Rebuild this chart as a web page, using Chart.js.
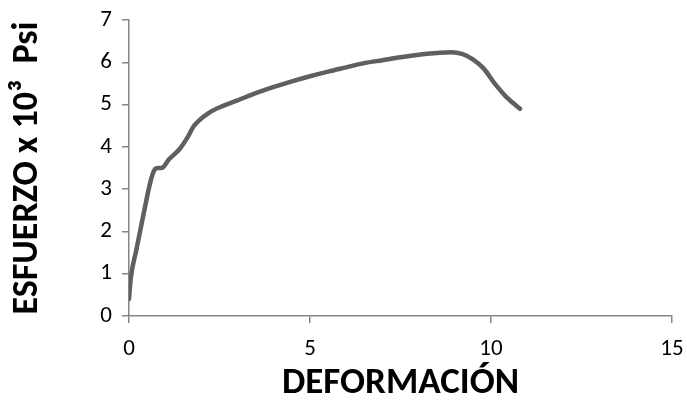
<!DOCTYPE html>
<html>
<head>
<meta charset="utf-8">
<script src="https://cdn.jsdelivr.net/npm/chart.js@4"></script>
<style>
  html, body { margin: 0; padding: 0; background: #fff; }
  #wrap { width: 687px; height: 410px; }
</style>
</head>
<body>
<div id="wrap"><canvas id="chart" width="687" height="410"></canvas></div>
<script>
const deformacion = [0, 0.05, 0.2, 0.4, 0.6, 0.7, 0.8, 0.9, 1.1, 1.4, 1.6, 1.8, 2.2, 2.6, 3, 3.5, 4, 4.5, 5, 5.5, 6, 6.5, 7, 7.5, 8, 8.5, 8.9, 9.2, 9.5, 9.8, 10.1, 10.4, 10.8];
const esfuerzo = [0.4, 0.9, 1.55, 2.4, 3.2, 3.45, 3.5, 3.5, 3.7, 3.95, 4.2, 4.5, 4.8, 4.97, 5.1, 5.27, 5.42, 5.55, 5.67, 5.78, 5.88, 5.98, 6.05, 6.12, 6.18, 6.22, 6.24, 6.2, 6.07, 5.85, 5.5, 5.2, 4.9];
const xTicks = [0, 5, 10, 15];
const yTicks = [0, 1, 2, 3, 4, 5, 6, 7];

const axisColor = "#868686";
const font = "Calibri, Carlito, 'Open Sans', sans-serif";

new Chart(document.getElementById("chart"), {
  type: "scatter",
  data: {
    datasets: [
      {
        data: deformacion.map((x, i) => ({ x: x, y: esfuerzo[i] })),
        showLine: true,
        borderColor: "#5f5f5f",
        borderWidth: 4.5,
        pointRadius: 0,
        tension: 0.3,
        cubicInterpolationMode: "monotone",
        borderCapStyle: "round",
        borderJoinStyle: "round",
      },
    ],
  },
  options: {
    responsive: false,
    animation: false,
    layout: { padding: { top: 20, right: 15, left: 0, bottom: 0 } },
    plugins: { legend: { display: false }, tooltip: { enabled: false } },
    scales: {
      x: {
        type: "linear",
        min: 0,
        max: 15,
        afterBuildTicks: (s) => { s.ticks = xTicks.map((v) => ({ value: v })); },
        afterFit: (s) => {
          s.height = 94;
          s.paddingLeft = 0;
          s.paddingRight = 0;
        },
        border: { color: axisColor, width: 1.5 },
        grid: { drawOnChartArea: false, color: axisColor, tickLength: 7, lineWidth: 1.5 },
        ticks: { color: "#000", font: { family: font, size: 23 }, padding: 12 },
        title: {
          display: true,
          text: "DEFORMACIÓN",
          color: "#000",
          font: { family: font, size: 37, weight: "bold" },
          padding: { top: 0 },
        },
      },
      y: {
        min: 0,
        max: 7,
        afterBuildTicks: (s) => { s.ticks = yTicks.map((v) => ({ value: v })); },
        afterFit: (s) => {
          s.width = 129;
          s.paddingTop = 0;
          s.paddingBottom = 0;
        },
        border: { color: axisColor, width: 1.5 },
        grid: { drawOnChartArea: false, color: axisColor, tickLength: 7, lineWidth: 1.5 },
        ticks: { color: "#000", font: { family: font, size: 23 }, padding: 10 },
        title: {
          display: true,
          text: "ESFUERZO x 10³  Psi",
          color: "#000",
          font: { family: font, size: 36, weight: "bold" },
          padding: { top: 6, bottom: 0 },
        },
      },
    },
  },
});
</script>
</body>
</html>
